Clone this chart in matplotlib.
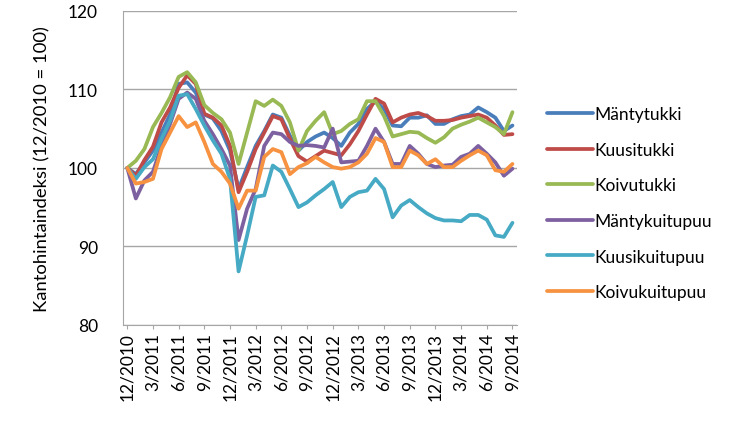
#!/usr/bin/env python3
"""
Kantohintaindeksi 12/2010 - 9/2014, six timber assortments.
Writes out.png (750x427).
"""

import matplotlib
matplotlib.use("Agg")
import matplotlib.pyplot as plt

plt.rcParams["font.family"] = ["Lato", "DejaVu Sans"]

# months 12/2010 .. 9/2014 (46 points), labelled every third month
months = [f"{m}/{y}" for y, ms in [(2010, [12]), (2011, range(1, 13)),
                                    (2012, range(1, 13)), (2013, range(1, 13)),
                                    (2014, range(1, 10))] for m in ms]
tick_labels = ["12/2010", "3/2011", "6/2011", "9/2011", "12/2011", "3/2012",
               "6/2012", "9/2012", "12/2012", "3/2013", "6/2013", "9/2013",
               "12/2013", "3/2014", "6/2014", "9/2014"]

mantytukki = [100.0, 99.2, 100.7, 102.2, 104.5, 106.8, 110.7, 110.9, 109.6, 106.8,
              106.3, 104.7, 102.2, 97.3, 100.1, 102.8, 104.7, 106.8, 106.4, 104.1,
              102.2, 103.3, 104.0, 104.5, 103.8, 102.8, 104.5, 105.6, 107.5, 108.5,
              107.5, 105.4, 105.3, 106.4, 106.4, 106.7, 105.6, 105.6, 106.2, 106.6,
              106.8, 107.7, 107.1, 106.4, 104.7, 105.4]
kuusitukki = [100.0, 99.0, 101.0, 102.7, 105.8, 107.7, 110.2, 111.8, 110.7, 106.9,
              106.4, 105.4, 102.8, 96.9, 99.5, 102.4, 104.5, 106.6, 106.2, 103.7,
              101.5, 100.8, 101.5, 102.2, 101.9, 101.6, 103.0, 104.7, 106.8, 108.8,
              108.2, 105.8, 106.4, 106.8, 107.0, 106.6, 106.0, 106.0, 106.1, 106.4,
              106.6, 106.8, 106.4, 105.4, 104.2, 104.3]
koivutukki = [100.0, 100.9, 102.4, 105.2, 107.0, 109.0, 111.6, 112.2, 110.9, 108.0,
              107.0, 106.2, 104.5, 100.5, 104.5, 108.5, 107.9, 108.7, 107.9, 105.8,
              102.2, 104.7, 106.0, 107.1, 104.3, 104.7, 105.6, 106.2, 108.5, 108.5,
              106.6, 104.0, 104.3, 104.6, 104.5, 103.8, 103.2, 103.9, 105.0, 105.5,
              105.9, 106.4, 105.8, 105.2, 104.3, 107.1]
mantykuitupuu = [100.0, 96.1, 98.4, 99.5, 102.8, 105.6, 108.8, 109.6, 108.8, 106.0,
                 104.3, 102.4, 100.3, 90.8, 94.8, 97.3, 102.8, 104.5, 104.3, 103.3,
                 102.8, 102.9, 102.8, 102.6, 105.0, 100.7, 100.8, 100.9, 102.8, 105.0,
                 103.3, 100.5, 100.5, 102.8, 101.8, 100.5, 100.1, 100.3, 100.4, 101.4,
                 101.8, 102.8, 101.8, 100.7, 99.0, 99.9]
kuusikuitupuu = [100.0, 98.6, 100.1, 101.1, 103.7, 106.0, 109.2, 109.4, 107.5, 105.4,
                 103.5, 101.8, 98.6, 86.8, 91.4, 96.3, 96.5, 100.3, 99.5, 97.3,
                 95.0, 95.6, 96.5, 97.3, 98.2, 95.0, 96.3, 96.9, 97.1, 98.6,
                 97.3, 93.7, 95.2, 95.9, 95.0, 94.2, 93.6, 93.3, 93.3, 93.2,
                 94.0, 94.0, 93.4, 91.4, 91.2, 93.0]
koivukuitupuu = [100.0, 98.0, 98.2, 98.6, 102.4, 104.5, 106.6, 105.2, 105.8, 103.3,
                 100.5, 99.5, 98.0, 94.8, 97.1, 97.1, 101.4, 102.4, 102.0, 99.2,
                 100.1, 100.6, 101.4, 100.7, 100.1, 99.9, 100.1, 100.7, 101.8, 103.8,
                 103.3, 100.1, 100.1, 102.2, 101.6, 100.5, 101.1, 100.1, 100.1, 100.9,
                 101.6, 102.2, 101.6, 99.7, 99.5, 100.5]

SERIES = [
    ("Mäntytukki",    mantytukki,    "#4A7EBB"),
    ("Kuusitukki",    kuusitukki,    "#BE4B48"),
    ("Koivutukki",    koivutukki,    "#98B954"),
    ("Mäntykuitupuu", mantykuitupuu, "#7D60A0"),
    ("Kuusikuitupuu", kuusikuitupuu, "#46AAC5"),
    ("Koivukuitupuu", koivukuitupuu, "#F69240"),
]

GRID = "#A6A6A6"

fig = plt.figure(figsize=(7.5, 4.27), dpi=100)
ax = fig.add_axes([0.164, 0.237, 0.525, 0.735])

xs = list(range(len(months)))
for label, ys, color in SERIES:
    ax.plot(xs, ys, color=color, linewidth=2.7, label=label,
            solid_joinstyle="round", solid_capstyle="round")

ax.set_xlim(-0.5, len(months) - 0.5)
ax.set_ylim(80, 120)
ax.set_yticks([80, 90, 100, 110, 120])
ax.yaxis.grid(True, color=GRID, linewidth=1)
ax.set_axisbelow(True)

tick_pos = [months.index(t) for t in tick_labels]
ax.set_xticks(tick_pos)
ax.set_xticklabels(tick_labels, rotation=90, fontsize=12.5)
ax.tick_params(axis="y", labelsize=12.5, length=0, pad=18)
ax.tick_params(axis="x", length=3, color=GRID, pad=2)

for side in ("top", "right"):
    ax.spines[side].set_visible(False)
for side in ("left", "bottom"):
    ax.spines[side].set_color(GRID)

ax.set_ylabel("Kantohintaindeksi (12/2010 = 100)", fontsize=13.3, labelpad=13)

fig.legend(loc="center left", bbox_to_anchor=(0.709, 0.522), frameon=False,
           fontsize=12.5, handlelength=2.6, handletextpad=0.1, labelspacing=1.13)

fig.savefig("out.png", dpi=100)
